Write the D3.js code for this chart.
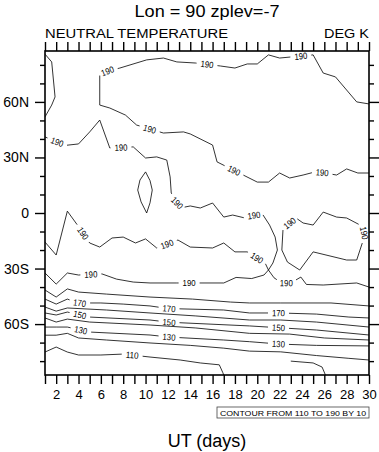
<!DOCTYPE html>
<html>
<head>
<meta charset="utf-8">
<script src="https://cdn.jsdelivr.net/npm/d3@7"></script>
<style>
  body { margin: 0; background: #fff; }
  text { font-family: "Liberation Sans", Arial, Helvetica, sans-serif; }
</style>
</head>
<body>
<div id="chart"></div>
<script>
// x: UT day, y: latitude. Contour lines traced as [day, lat] pairs.
const days = d3.range(1, 31);
const latMajor = [-60, -30, 0, 30, 60];
const latMinor = [-80, -70, -50, -40, -20, -10, 10, 20, 40, 50, 70, 80];
const latLabel = d => d === 0 ? "0" : Math.abs(d) + (d < 0 ? "S" : "N");

// 190 K lines
const c190a = [[1,85.8],[1.6,81.6],[1.9,62.7],[1.6,58.3],[1,51.9]];
const c190b = [[1,41.1],[2.8,36.5],[4,37.3],[5,43.8],[5.9,50.2],[6.8,35.1],[8.9,35.7],[10,29.7],[11,30.3],
  [11.9,28.6],[12.2,19.5],[12.3,10.8],[13.1,2.7],[14,3.8],[14.9,2.7],[16,5.4],[17,-2.2],[17.8,-1.1],
  [18.9,-2.7],[20.4,0],[21.1,-6.5],[21.6,-13],[21.8,-20],[21.4,-27],[21,-30.8]];
const c190c = [[30,58.9],[28.9,60],[27,73.5],[25.9,75.6],[25,85.4],[22,83.7],[21,85.4],[20,80.5],[19.1,80.5],
  [18,78.3],[16.7,79.4],[14.5,81],[12.8,81.6],[11.6,83.7],[10.1,82.7],[7.7,78.3],[5.9,75.6],[5.9,58.3],
  [6.8,56.7],[8.2,52.9],[9.2,47.5],[11.6,43.2],[13.4,43.8],[14,42.7],[16,36.7],[16.4,27.6],[20,16.7],
  [21,16.7],[22,21.6],[22.9,18.9],[24.1,20.5],[25.3,22.4],[27.1,20.5],[28,23.8],[29,21.6],[30,21.6]];
const c190d = [[10,22.2],[10.4,17.5],[10.6,12.4],[10.4,5.5],[10.1,0],[9.6,6],[9.3,12.4],[9.5,17.8],[10,22.2]];
const c190e = [[1,-15.7],[2,-22.7],[3,1],[3.9,-6.5],[5,-16.2],[5.9,-18.4],[7,-13.5],[8,-13],[9.1,-16.2],
  [10,-14],[11,-18.9],[12.9,-14.6],[14,-18.4],[16,-18.9],[17,-16.2],[18,-21],[19.1,-21],[20.7,-27],[21,-30.8]];
const c190f = [[1,-32.4],[2,-38.4],[3,-32.4],[4,-33.5],[6.1,-32.9],[7.4,-35.7],[8.9,-37.3],[10.4,-37.8],
  [12.8,-37.8],[17,-37.8],[18.1,-34.8],[19.5,-35.4],[20.6,-33.5],[21,-30.8],[21.5,-35],[22.2,-37.8],
  [23,-37.8],[23.9,-34.6],[24.4,-38.6],[25.9,-38.9],[28.9,-37.8],[30,-40]];
const c190g = [[22.3,-9.2],[23.4,-2.4],[24.1,-5.4],[25,-6.5],[25.9,0.5],[27.1,-2.2],[28,-2.7],[29.2,-6.5],
  [29.6,-11],[29.4,-16.2],[28.9,-25.4],[28,-25.4],[25,-21],[23.8,-30.8],[22.7,-26.5],[22.2,-20],[22.3,-9.2]];
// colder southern lines
const c180 = [[1,-41.6],[2,-45.4],[3,-41],[4,-42.7],[6.5,-43.8],[10.4,-45.4],[14.2,-46.5],[17.6,-48.1],
  [19.3,-48.6],[22.1,-48.6],[26.6,-48.6],[30,-50.2]];
const c170 = [[1,-46.5],[2,-49.2],[3,-46.5],[4,-48.6],[6,-48.6],[8,-49.2],[10.4,-50.2],[12,-51.6],[17,-52.4],
  [19.3,-54],[22,-54],[25.3,-54.6],[28.2,-56.2],[30,-56.7]];
const c160 = [[1,-50.8],[2,-53],[3,-51.3],[6.5,-52.4],[10.4,-54],[14.5,-55.6],[19.3,-57.8],[22.1,-57.8],
  [25.3,-58.9],[30,-61.6]];
const c150 = [[1,-54],[2,-55.1],[3,-53.5],[5,-56.2],[10.4,-57.8],[12.1,-59],[19.3,-61],[22,-62],[25.3,-63.2],[30,-65.9]];
const c140 = [[1,-56.7],[2,-58.9],[3,-57.3],[5,-58.9],[10.4,-60.5],[14.5,-62.1],[19.3,-65],[22.9,-65.4],
  [26,-67.5],[30,-68.6]];
const c130 = [[1,-61.6],[2,-61.6],[3,-61.6],[5,-64.3],[10.4,-65.9],[12.1,-67],[17,-68.6],[19.3,-69.5],
  [22,-70.8],[25.3,-71.5],[30,-71.8]];
const c120 = [[1,-66],[2,-66],[3,-65],[4,-67.5],[6.5,-68.6],[10.4,-70.2],[14,-71.5],[17,-73],[19.3,-74.6],
  [22.1,-75],[25.3,-77],[28.2,-78.5],[30,-79.4]];
const c110 = [[1,-75.1],[2,-72.4],[3,-75.1],[4,-76.7],[6,-76.7],[8,-76.2],[10.4,-77.8],[13.1,-79.4],
  [14.9,-81],[16.6,-82],[16.9,-86],[17,-87.5]];
const c110b = [[26.1,-87.5],[25.8,-83.2],[25,-81],[23,-80]];

const lines = [
  {level: 190, pts: c190a, labels: []},
  {level: 190, pts: c190b, labels: [[2,37],[7.8,35.3],[12.7,5],[19.7,-1.3]]},
  {level: 190, pts: c190c, labels: [[23.9,84.5],[15.5,80.2],[6.6,76.5],[10.3,44],[18,24],[25.8,21.5]]},
  {level: 190, pts: c190d, labels: []},
  {level: 190, pts: c190e, labels: [[4.4,-11],[11.9,-16.5],[20,-24]]},
  {level: 190, pts: c190f, labels: [[5.1,-32.6],[13.9,-37.8],[22.6,-37.8]]},
  {level: 190, pts: c190g, labels: [[22.9,-5.5],[29.5,-11]]},
  {level: 180, pts: c180, labels: []},
  {level: 170, pts: c170, labels: [[4.1,-48.6],[12.1,-51.6],[21.9,-54]]},
  {level: 160, pts: c160, labels: []},
  {level: 150, pts: c150, labels: [[4.1,-55.5],[12.1,-59],[21.9,-62]]},
  {level: 140, pts: c140, labels: []},
  {level: 130, pts: c130, labels: [[4.2,-63.5],[12.1,-67],[21.9,-70.5]]},
  {level: 120, pts: c120, labels: []},
  {level: 110, pts: c110, labels: [[8.8,-77]]},
  {level: 110, pts: c110b, labels: []}
];

const width = 379, height = 452;
const margin = {top: 51, right: 10, bottom: 77, left: 45};

const x = d3.scaleLinear().domain([1, 30]).range([margin.left, width - margin.right]);
const y = d3.scaleLinear().domain([-87.5, 87.5]).range([height - margin.bottom, margin.top]);

const svg = d3.select("#chart").append("svg")
  .attr("width", width)
  .attr("height", height)
  .attr("viewBox", [0, 0, width, height]);

svg.append("clipPath").attr("id", "plot")
  .append("rect")
  .attr("x", x(1)).attr("y", y(87.5))
  .attr("width", x(30) - x(1)).attr("height", y(-87.5) - y(87.5));

// split a pixel polyline so labels sit in gaps
function layoutLine(px, labelPx, gap) {
  const cum = [0];
  for (let i = 1; i < px.length; i++)
    cum.push(cum[i - 1] + Math.hypot(px[i][0] - px[i - 1][0], px[i][1] - px[i - 1][1]));
  const total = cum[cum.length - 1];
  const at = s => {
    s = Math.max(0, Math.min(total, s));
    let i = 0;
    while (i < px.length - 2 && cum[i + 1] < s) i++;
    const t = (s - cum[i]) / ((cum[i + 1] - cum[i]) || 1);
    return [px[i][0] + t * (px[i + 1][0] - px[i][0]), px[i][1] + t * (px[i + 1][1] - px[i][1])];
  };
  const project = p => {
    let best = Infinity, bs = 0;
    for (let i = 0; i < px.length - 1; i++) {
      const [ax, ay] = px[i], [bx, by] = px[i + 1];
      const dx = bx - ax, dy = by - ay, L = dx * dx + dy * dy || 1;
      const t = Math.max(0, Math.min(1, ((p[0] - ax) * dx + (p[1] - ay) * dy) / L));
      const d = Math.hypot(ax + t * dx - p[0], ay + t * dy - p[1]);
      if (d < best) { best = d; bs = cum[i] + t * Math.sqrt(L); }
    }
    return bs;
  };
  const cuts = labelPx.map(p => {
    const s = project(p);
    const a = at(s - gap / 2), b = at(s + gap / 2);
    let ang = Math.atan2(b[1] - a[1], b[0] - a[0]) * 180 / Math.PI;
    if (ang > 90) ang -= 180;
    if (ang < -90) ang += 180;
    return {s0: s - gap / 2, s1: s + gap / 2, pos: at(s), ang};
  });
  const marks = Array.from(new Set(cum.concat(cuts.flatMap(c => [c.s0, c.s1]))))
    .filter(s => s >= 0 && s <= total).sort((a, b) => a - b);
  const pieces = [];
  let cur = null;
  for (let i = 0; i < marks.length - 1; i++) {
    const mid = (marks[i] + marks[i + 1]) / 2;
    const hidden = cuts.some(c => mid > c.s0 && mid < c.s1);
    if (hidden) { if (cur) pieces.push(cur); cur = null; continue; }
    if (!cur) cur = [at(marks[i])];
    cur.push(at(marks[i + 1]));
  }
  if (cur) pieces.push(cur);
  return {pieces, cuts};
}

const line = d3.line();
const g = svg.append("g").attr("clip-path", "url(#plot)");

for (const c of lines) {
  const px = c.pts.map(([d, l]) => [x(d), y(l)]);
  const lp = c.labels.map(([d, l]) => [x(d), y(l)]);
  const {pieces, cuts} = layoutLine(px, lp, 21);
  g.selectAll(null).data(pieces).join("path")
    .attr("d", line)
    .attr("fill", "none")
    .attr("stroke", "#000")
    .attr("stroke-width", 0.8);
  g.selectAll(null).data(cuts).join("text")
    .attr("transform", d => `translate(${d.pos[0]},${d.pos[1]}) rotate(${d.ang})`)
    .attr("text-anchor", "middle")
    .attr("dy", "0.36em")
    .attr("font-size", 9)
    .attr("textLength", 13)
    .attr("lengthAdjust", "spacingAndGlyphs")
    .text(c.level);
}

// axes
const y0 = y(-87.5), y1 = y(87.5), x0 = x(1), x1 = x(30);

svg.append("g").attr("transform", `translate(0,${y0})`)
  .call(d3.axisBottom(x).tickValues(days).tickSize(9).tickPadding(6)
    .tickFormat(d => d % 2 ? "" : d))
  .call(a => a.select(".domain").remove())
  .call(a => a.selectAll("line").attr("stroke-width", 1.4))
  .call(a => a.selectAll("text").attr("font-size", 13).attr("fill", "#000")
    .attr("font-family", "Liberation Sans, Arial, sans-serif"));

svg.append("g").attr("transform", `translate(0,${y1})`)
  .call(d3.axisTop(x).tickValues(days).tickSize(9).tickFormat(""))
  .call(a => a.select(".domain").remove())
  .call(a => a.selectAll("line").attr("stroke-width", 1.4));

svg.append("g").attr("transform", `translate(${x0},0)`)
  .call(d3.axisLeft(y).tickValues(latMinor).tickSize(5).tickFormat(""))
  .call(a => a.select(".domain").remove())
  .call(a => a.selectAll("line").attr("stroke-width", 1.4));

svg.append("g").attr("transform", `translate(${x0},0)`)
  .call(d3.axisLeft(y).tickValues(latMajor).tickSize(10).tickPadding(6).tickFormat(latLabel))
  .call(a => a.select(".domain").remove())
  .call(a => a.selectAll("line").attr("stroke-width", 1.4))
  .call(a => a.selectAll("text").attr("font-size", 14).attr("fill", "#000")
    .attr("font-family", "Liberation Sans, Arial, sans-serif"));

svg.append("g").attr("transform", `translate(${x1},0)`)
  .call(d3.axisRight(y).tickValues(latMinor).tickSize(5).tickFormat(""))
  .call(a => a.select(".domain").remove())
  .call(a => a.selectAll("line").attr("stroke-width", 1.4));

svg.append("g").attr("transform", `translate(${x1},0)`)
  .call(d3.axisRight(y).tickValues(latMajor).tickSize(10).tickFormat(""))
  .call(a => a.select(".domain").remove())
  .call(a => a.selectAll("line").attr("stroke-width", 1.4));

svg.append("rect")
  .attr("x", x0).attr("y", y1)
  .attr("width", x1 - x0).attr("height", y0 - y1)
  .attr("fill", "none").attr("stroke", "#000").attr("stroke-width", 1.6);

// titles
svg.append("text")
  .attr("x", (x0 + x1) / 2).attr("y", 17)
  .attr("text-anchor", "middle").attr("font-size", 16)
  .attr("textLength", 145).attr("lengthAdjust", "spacingAndGlyphs")
  .text("Lon = 90 zplev=-7");

svg.append("text")
  .attr("x", x0).attr("y", 38)
  .attr("font-size", 12)
  .attr("textLength", 183).attr("lengthAdjust", "spacingAndGlyphs")
  .text("NEUTRAL TEMPERATURE");

svg.append("text")
  .attr("x", x1).attr("y", 38)
  .attr("text-anchor", "end").attr("font-size", 12)
  .attr("textLength", 45).attr("lengthAdjust", "spacingAndGlyphs")
  .text("DEG K");

svg.append("text")
  .attr("x", (x0 + x1) / 2).attr("y", 447)
  .attr("text-anchor", "middle").attr("font-size", 18)
  .text("UT (days)");

const info = svg.append("g").attr("transform", `translate(${x1},407)`);
info.append("rect")
  .attr("x", -152).attr("y", 0).attr("width", 152).attr("height", 11)
  .attr("fill", "#fff").attr("stroke", "#444").attr("stroke-width", 0.8);
info.append("text")
  .attr("x", -76).attr("y", 8.5)
  .attr("text-anchor", "middle").attr("font-size", 8)
  .attr("textLength", 146).attr("lengthAdjust", "spacingAndGlyphs")
  .text("CONTOUR FROM 110 TO 190 BY 10");
</script>
</body>
</html>
